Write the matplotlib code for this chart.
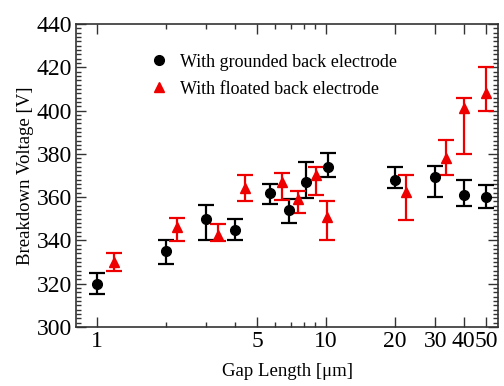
import matplotlib

matplotlib.use("Agg")
import matplotlib.pyplot as plt
from matplotlib.ticker import FixedLocator, MultipleLocator, NullFormatter

# Grounded back electrode
gap_gnd = [1.0, 2.0, 3.0, 4.0, 5.7, 6.9, 8.15, 10.2, 20.0, 30.0, 40.0, 50.0]
v_gnd = [320, 335, 350, 345, 362, 354, 367, 374, 368, 369.5, 361, 360]
err_gnd_lo = [5, 6, 10, 5, 5, 6, 7.5, 4.5, 4, 9.5, 5, 5]
err_gnd_hi = [5, 5, 6.5, 5, 4, 5, 9, 6.5, 6, 5, 7, 5.5]

# Floated back electrode
gap_flt = [1.18, 2.23, 3.39, 4.43, 6.4, 7.57, 9.04, 10.06, 22.4, 33.4, 40.0, 50.0]
v_flt = [330, 346, 342.5, 364, 367, 359, 370, 351, 362.5, 378, 401, 408]
err_flt_lo = [4, 6.5, 3, 6, 8.5, 6.5, 9, 11, 13, 8, 21, 8]
err_flt_hi = [4, 4.5, 5, 6, 4, 4, 4, 7, 7.5, 8.5, 5, 12]

x_major = [1, 5, 10, 20, 30, 40, 50]
x_minor = [2, 3, 4, 6, 7, 8, 9]

plt.rcParams["font.family"] = ["Liberation Serif", "DejaVu Serif"]

fig = plt.figure(figsize=(5.04, 3.86), dpi=100)
ax = fig.add_axes([0.151, 0.153, 0.837, 0.785])

ax.errorbar(gap_gnd, v_gnd, yerr=[err_gnd_lo, err_gnd_hi], fmt="o", color="black",
            ms=7, elinewidth=1.6, capsize=6, capthick=1.6,
            label="With grounded back electrode")
ax.errorbar(gap_flt, v_flt, yerr=[err_flt_lo, err_flt_hi], fmt="^", color="#ee0000",
            ms=7.5, elinewidth=1.6, capsize=6, capthick=1.6,
            label="With floated back electrode")

ax.set_xscale("log")
ax.set_xlim(0.81, 56.4)
ax.set_ylim(300, 440)
ax.xaxis.set_major_locator(FixedLocator(x_major))
ax.xaxis.set_minor_locator(FixedLocator(x_minor))
ax.set_xticklabels([str(v) for v in x_major])
ax.xaxis.set_minor_formatter(NullFormatter())
ax.yaxis.set_major_locator(MultipleLocator(20))
ax.yaxis.set_minor_locator(MultipleLocator(2))

ax.tick_params(which="both", direction="in", top=True, right=True, width=1, color="#333333")
ax.tick_params(which="major", length=7, labelsize=17, pad=3)
ax.tick_params(which="minor", length=3.5)
for s in ax.spines.values():
    s.set_linewidth(1.2)
    s.set_color("#333333")

ax.set_xlabel("Gap Length [\u03bcm]", fontsize=13.5, labelpad=8)
ax.set_ylabel("Breakdown Voltage [V]", fontsize=13.5, labelpad=2)

handles, labels = ax.get_legend_handles_labels()
handles = [h[0] for h in handles]
ax.legend(handles, labels, loc="upper left", bbox_to_anchor=(0.133, 0.955), frameon=False,
          fontsize=13, handletextpad=0.55, handlelength=1.2, labelspacing=0.55)

fig.savefig("out.png", dpi=100)
